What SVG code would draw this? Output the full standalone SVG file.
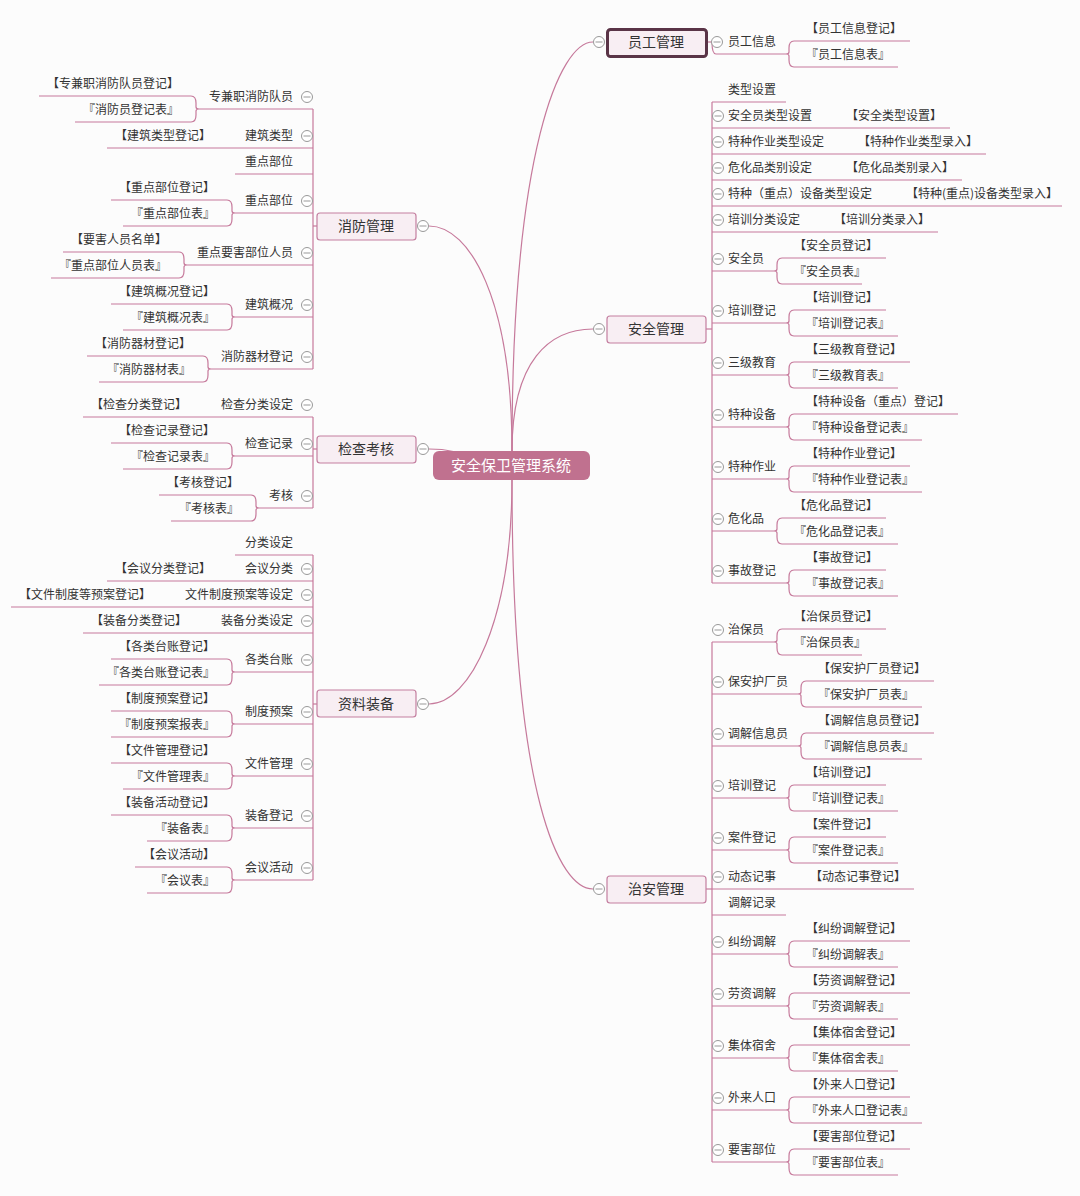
<svg xmlns="http://www.w3.org/2000/svg" width="1080" height="1196" viewBox="0 0 1080 1196">
<style>
.t{font-family:"Noto Sans CJK SC","Liberation Sans",sans-serif;font-size:12px;fill:#333}
.e{text-anchor:end}
.l{stroke:#c6799b;stroke-width:1.2;fill:none}
.c{fill:#fff;stroke:#999;stroke-width:1}
.m{stroke:#999;stroke-width:1}
.box{fill:#f8eef3;stroke:#c47fa0;stroke-width:1.2}
.bt{font-family:"Noto Sans CJK SC","Liberation Sans",sans-serif;font-size:14px;fill:#333;text-anchor:middle}
</style>
<defs>
<g id="cir"><circle class="c" r="5.5"/><line class="m" x1="-3.5" x2="3.5" y1="0" y2="0"/></g>
</defs>
<rect width="1080" height="1196" fill="#fcfcfc"/>
<g id="connectors">
<path class="l" d="M512,451 C512,150 560,42 593,42"/>
<path class="l" d="M512,451 C512,360 550,329 593,329"/>
<path class="l" d="M512,480 C512,800 560,889 593,889"/>
<path class="l" d="M512,451 C512,300 470,226 429,226"/>
<path class="l" d="M429,449 C470,449 470,465 512,465"/>
<path class="l" d="M512,480 C512,620 470,704 429,704"/>
<!-- trunks -->
<line class="l" x1="706" y1="42" x2="712" y2="42"/>
<path class="l" d="M712,42 Q712,54 716,54 L786,54"/>
<line class="l" x1="712" y1="102" x2="712" y2="583"/>
<line class="l" x1="706" y1="329" x2="712" y2="329"/>
<line class="l" x1="712" y1="642" x2="712" y2="1162"/>
<line class="l" x1="706" y1="889" x2="712" y2="889"/>
<line class="l" x1="313" y1="109" x2="313" y2="369"/>
<line class="l" x1="313" y1="226" x2="317" y2="226"/>
<line class="l" x1="313" y1="417" x2="313" y2="508"/>
<line class="l" x1="313" y1="449" x2="317" y2="449"/>
<line class="l" x1="313" y1="555" x2="313" y2="880"/>
<line class="l" x1="313" y1="704" x2="317" y2="704"/>
</g>
<g id="root"><rect x="433" y="451" width="157" height="29" rx="6" fill="#c0718f"/><text x="511" y="471" font-family="Noto Sans CJK SC,Liberation Sans,sans-serif" font-size="15" fill="#fff" text-anchor="middle">安全保卫管理系统</text></g>
<g id="yggl"><rect x="607.5" y="29.5" width="99" height="27" rx="3" fill="#f8eef3" stroke="#5a3447" stroke-width="3"/><text class="bt" x="656" y="47">员工管理</text><use href="#cir" x="599" y="42"/><use href="#cir" x="717" y="42"/></g>
<g id="aqgl"><rect class="box" x="607" y="316" width="99" height="27" rx="3"/><text class="bt" x="656" y="334">安全管理</text><use href="#cir" x="599" y="329"/></g>
<g id="zagl"><rect class="box" x="607" y="876" width="99" height="27" rx="3"/><text class="bt" x="656" y="894">治安管理</text><use href="#cir" x="599" y="889"/></g>
<g id="xfgl"><rect class="box" x="317" y="213" width="99" height="27" rx="3"/><text class="bt" x="366" y="231">消防管理</text><use href="#cir" x="423" y="226"/></g>
<g id="jckh"><rect class="box" x="317" y="436" width="99" height="27" rx="3"/><text class="bt" x="366" y="454">检查考核</text><use href="#cir" x="423" y="449"/></g>
<g id="zlzb"><rect class="box" x="317" y="690" width="99" height="27" rx="3"/><text class="bt" x="366" y="709">资料装备</text><use href="#cir" x="423" y="704"/></g>

<!-- right side doubles: params -->
<g id="ygxx"><text class="t" x="728" y="46">员工信息</text>
<path class="l" d="M794,41 Q789,41 789,48 L789,52 Q789,54 786,54 Q789,54 789,56 L789,60 Q789,67 794,67"/>
<line class="l" x1="794" y1="41" x2="910" y2="41"/><line class="l" x1="794" y1="67" x2="898" y2="67"/>
<text class="t" x="806" y="33">【员工信息登记】</text><text class="t" x="806" y="59">『员工信息表』</text></g>

<g id="lxsz"><text class="t" x="728" y="94">类型设置</text><line class="l" x1="712" y1="102" x2="786" y2="102"/></g>
<g id="s1"><use href="#cir" x="718" y="116"/><text class="t" x="728" y="120">安全员类型设置</text><text class="t" x="846" y="120">【安全类型设置】</text><line class="l" x1="712" y1="128" x2="950" y2="128"/></g>
<g id="s2"><use href="#cir" x="718" y="142"/><text class="t" x="728" y="146">特种作业类型设定</text><text class="t" x="858" y="146">【特种作业类型录入】</text><line class="l" x1="712" y1="154" x2="986" y2="154"/></g>
<g id="s3"><use href="#cir" x="718" y="168"/><text class="t" x="728" y="172">危化品类别设定</text><text class="t" x="846" y="172">【危化品类别录入】</text><line class="l" x1="712" y1="180" x2="962" y2="180"/></g>
<g id="s4"><use href="#cir" x="718" y="194"/><text class="t" x="728" y="198">特种（重点）设备类型设定</text><text class="t" x="906" y="198">【特种(重点)设备类型录入】</text><line class="l" x1="712" y1="206" x2="1062" y2="206"/></g>
<g id="s5"><use href="#cir" x="718" y="220"/><text class="t" x="728" y="224">培训分类设定</text><text class="t" x="834" y="224">【培训分类录入】</text><line class="l" x1="712" y1="232" x2="938" y2="232"/></g>

<g id="aqy"><use href="#cir" x="718" y="259"/><text class="t" x="728" y="263">安全员</text><line class="l" x1="712" y1="271" x2="774" y2="271"/>
<path class="l" d="M782,258 Q777,258 777,265 L777,269 Q777,271 774,271 Q777,271 777,273 L777,277 Q777,284 782,284"/>
<line class="l" x1="782" y1="258" x2="886" y2="258"/><line class="l" x1="782" y1="284" x2="862" y2="284"/>
<text class="t" x="794" y="250">【安全员登记】</text><text class="t" x="794" y="276">『安全员表』</text></g>

<g id="pxdj"><use href="#cir" x="718" y="311"/><text class="t" x="728" y="315">培训登记</text><line class="l" x1="712" y1="323" x2="786" y2="323"/>
<path class="l" d="M794,310 Q789,310 789,317 L789,321 Q789,323 786,323 Q789,323 789,325 L789,329 Q789,336 794,336"/>
<line class="l" x1="794" y1="310" x2="886" y2="310"/><line class="l" x1="794" y1="336" x2="898" y2="336"/>
<text class="t" x="806" y="302">【培训登记】</text><text class="t" x="806" y="328">『培训登记表』</text></g>

<g id="sjjy"><use href="#cir" x="718" y="363"/><text class="t" x="728" y="367">三级教育</text><line class="l" x1="712" y1="375" x2="786" y2="375"/>
<path class="l" d="M794,362 Q789,362 789,369 L789,373 Q789,375 786,375 Q789,375 789,377 L789,381 Q789,388 794,388"/>
<line class="l" x1="794" y1="362" x2="910" y2="362"/><line class="l" x1="794" y1="388" x2="898" y2="388"/>
<text class="t" x="806" y="354">【三级教育登记】</text><text class="t" x="806" y="380">『三级教育表』</text></g>

<g id="tzsb"><use href="#cir" x="718" y="415"/><text class="t" x="728" y="419">特种设备</text><line class="l" x1="712" y1="427" x2="786" y2="427"/>
<path class="l" d="M794,414 Q789,414 789,421 L789,425 Q789,427 786,427 Q789,427 789,429 L789,433 Q789,440 794,440"/>
<line class="l" x1="794" y1="414" x2="958" y2="414"/><line class="l" x1="794" y1="440" x2="922" y2="440"/>
<text class="t" x="806" y="406">【特种设备（重点）登记】</text><text class="t" x="806" y="432">『特种设备登记表』</text></g>

<g id="tzzy"><use href="#cir" x="718" y="467"/><text class="t" x="728" y="471">特种作业</text><line class="l" x1="712" y1="479" x2="786" y2="479"/>
<path class="l" d="M794,466 Q789,466 789,473 L789,477 Q789,479 786,479 Q789,479 789,481 L789,485 Q789,492 794,492"/>
<line class="l" x1="794" y1="466" x2="910" y2="466"/><line class="l" x1="794" y1="492" x2="922" y2="492"/>
<text class="t" x="806" y="458">【特种作业登记】</text><text class="t" x="806" y="484">『特种作业登记表』</text></g>

<g id="whp"><use href="#cir" x="718" y="519"/><text class="t" x="728" y="523">危化品</text><line class="l" x1="712" y1="531" x2="774" y2="531"/>
<path class="l" d="M782,518 Q777,518 777,525 L777,529 Q777,531 774,531 Q777,531 777,533 L777,537 Q777,544 782,544"/>
<line class="l" x1="782" y1="518" x2="886" y2="518"/><line class="l" x1="782" y1="544" x2="898" y2="544"/>
<text class="t" x="794" y="510">【危化品登记】</text><text class="t" x="794" y="536">『危化品登记表』</text></g>

<g id="sgdj"><use href="#cir" x="718" y="571"/><text class="t" x="728" y="575">事故登记</text><line class="l" x1="712" y1="583" x2="786" y2="583"/>
<path class="l" d="M794,570 Q789,570 789,577 L789,581 Q789,583 786,583 Q789,583 789,585 L789,589 Q789,596 794,596"/>
<line class="l" x1="794" y1="570" x2="886" y2="570"/><line class="l" x1="794" y1="596" x2="898" y2="596"/>
<text class="t" x="806" y="562">【事故登记】</text><text class="t" x="806" y="588">『事故登记表』</text></g>

<!-- 治安 -->
<g id="zby"><use href="#cir" x="718" y="630"/><text class="t" x="728" y="634">治保员</text><line class="l" x1="712" y1="642" x2="774" y2="642"/>
<path class="l" d="M782,629 Q777,629 777,636 L777,640 Q777,642 774,642 Q777,642 777,644 L777,648 Q777,655 782,655"/>
<line class="l" x1="782" y1="629" x2="886" y2="629"/><line class="l" x1="782" y1="655" x2="862" y2="655"/>
<text class="t" x="794" y="621">【治保员登记】</text><text class="t" x="794" y="647">『治保员表』</text></g>

<g id="bahcy"><use href="#cir" x="718" y="682"/><text class="t" x="728" y="686">保安护厂员</text><line class="l" x1="712" y1="694" x2="798" y2="694"/>
<path class="l" d="M806,681 Q801,681 801,688 L801,692 Q801,694 798,694 Q801,694 801,696 L801,700 Q801,707 806,707"/>
<line class="l" x1="806" y1="681" x2="934" y2="681"/><line class="l" x1="806" y1="707" x2="922" y2="707"/>
<text class="t" x="818" y="673">【保安护厂员登记】</text><text class="t" x="818" y="699">『保安护厂员表』</text></g>

<g id="tjxxy"><use href="#cir" x="718" y="734"/><text class="t" x="728" y="738">调解信息员</text><line class="l" x1="712" y1="746" x2="798" y2="746"/>
<path class="l" d="M806,733 Q801,733 801,740 L801,744 Q801,746 798,746 Q801,746 801,748 L801,752 Q801,759 806,759"/>
<line class="l" x1="806" y1="733" x2="934" y2="733"/><line class="l" x1="806" y1="759" x2="922" y2="759"/>
<text class="t" x="818" y="725">【调解信息员登记】</text><text class="t" x="818" y="751">『调解信息员表』</text></g>

<g id="pxdj2"><use href="#cir" x="718" y="786"/><text class="t" x="728" y="790">培训登记</text><line class="l" x1="712" y1="798" x2="786" y2="798"/>
<path class="l" d="M794,785 Q789,785 789,792 L789,796 Q789,798 786,798 Q789,798 789,800 L789,804 Q789,811 794,811"/>
<line class="l" x1="794" y1="785" x2="886" y2="785"/><line class="l" x1="794" y1="811" x2="898" y2="811"/>
<text class="t" x="806" y="777">【培训登记】</text><text class="t" x="806" y="803">『培训登记表』</text></g>

<g id="ajdj"><use href="#cir" x="718" y="838"/><text class="t" x="728" y="842">案件登记</text><line class="l" x1="712" y1="850" x2="786" y2="850"/>
<path class="l" d="M794,837 Q789,837 789,844 L789,848 Q789,850 786,850 Q789,850 789,852 L789,856 Q789,863 794,863"/>
<line class="l" x1="794" y1="837" x2="886" y2="837"/><line class="l" x1="794" y1="863" x2="898" y2="863"/>
<text class="t" x="806" y="829">【案件登记】</text><text class="t" x="806" y="855">『案件登记表』</text></g>

<g id="dtjs"><use href="#cir" x="718" y="877"/><text class="t" x="728" y="881">动态记事</text><text class="t" x="810" y="881">【动态记事登记】</text><line class="l" x1="712" y1="889" x2="914" y2="889"/></g>
<g id="tjjl"><text class="t" x="728" y="907">调解记录</text><line class="l" x1="712" y1="915" x2="786" y2="915"/></g>

<g id="jftj"><use href="#cir" x="718" y="942"/><text class="t" x="728" y="946">纠纷调解</text><line class="l" x1="712" y1="954" x2="786" y2="954"/>
<path class="l" d="M794,941 Q789,941 789,948 L789,952 Q789,954 786,954 Q789,954 789,956 L789,960 Q789,967 794,967"/>
<line class="l" x1="794" y1="941" x2="910" y2="941"/><line class="l" x1="794" y1="967" x2="898" y2="967"/>
<text class="t" x="806" y="933">【纠纷调解登记】</text><text class="t" x="806" y="959">『纠纷调解表』</text></g>

<g id="lztj"><use href="#cir" x="718" y="994"/><text class="t" x="728" y="998">劳资调解</text><line class="l" x1="712" y1="1006" x2="786" y2="1006"/>
<path class="l" d="M794,993 Q789,993 789,1000 L789,1004 Q789,1006 786,1006 Q789,1006 789,1008 L789,1012 Q789,1019 794,1019"/>
<line class="l" x1="794" y1="993" x2="910" y2="993"/><line class="l" x1="794" y1="1019" x2="898" y2="1019"/>
<text class="t" x="806" y="985">【劳资调解登记】</text><text class="t" x="806" y="1011">『劳资调解表』</text></g>

<g id="jtss"><use href="#cir" x="718" y="1046"/><text class="t" x="728" y="1050">集体宿舍</text><line class="l" x1="712" y1="1058" x2="786" y2="1058"/>
<path class="l" d="M794,1045 Q789,1045 789,1052 L789,1056 Q789,1058 786,1058 Q789,1058 789,1060 L789,1064 Q789,1071 794,1071"/>
<line class="l" x1="794" y1="1045" x2="910" y2="1045"/><line class="l" x1="794" y1="1071" x2="898" y2="1071"/>
<text class="t" x="806" y="1037">【集体宿舍登记】</text><text class="t" x="806" y="1063">『集体宿舍表』</text></g>

<g id="wlrk"><use href="#cir" x="718" y="1098"/><text class="t" x="728" y="1102">外来人口</text><line class="l" x1="712" y1="1110" x2="786" y2="1110"/>
<path class="l" d="M794,1097 Q789,1097 789,1104 L789,1108 Q789,1110 786,1110 Q789,1110 789,1112 L789,1116 Q789,1123 794,1123"/>
<line class="l" x1="794" y1="1097" x2="910" y2="1097"/><line class="l" x1="794" y1="1123" x2="922" y2="1123"/>
<text class="t" x="806" y="1089">【外来人口登记】</text><text class="t" x="806" y="1115">『外来人口登记表』</text></g>

<g id="yhbw"><use href="#cir" x="718" y="1150"/><text class="t" x="728" y="1154">要害部位</text><line class="l" x1="712" y1="1162" x2="786" y2="1162"/>
<path class="l" d="M794,1149 Q789,1149 789,1156 L789,1160 Q789,1162 786,1162 Q789,1162 789,1164 L789,1168 Q789,1175 794,1175"/>
<line class="l" x1="794" y1="1149" x2="910" y2="1149"/><line class="l" x1="794" y1="1175" x2="898" y2="1175"/>
<text class="t" x="806" y="1141">【要害部位登记】</text><text class="t" x="806" y="1167">『要害部位表』</text></g>

<!-- LEFT: 消防管理 -->
<g id="zjz"><use href="#cir" x="307" y="97"/><text class="t e" x="293" y="101">专兼职消防队员</text><line class="l" x1="199" y1="109" x2="313" y2="109"/>
<path class="l" d="M191,96 Q196,96 196,103 L196,107 Q196,109 199,109 Q196,109 196,111 L196,115 Q196,122 191,122"/>
<line class="l" x1="39" y1="96" x2="191" y2="96"/><line class="l" x1="75" y1="122" x2="191" y2="122"/>
<text class="t e" x="179" y="88">【专兼职消防队员登记】</text><text class="t e" x="179" y="114">『消防员登记表』</text></g>
<g id="jzlx"><use href="#cir" x="307" y="136"/><text class="t e" x="293" y="140">建筑类型</text><text class="t e" x="211" y="140">【建筑类型登记】</text><line class="l" x1="107" y1="148" x2="313" y2="148"/></g>
<g id="zdbw1"><text class="t e" x="293" y="166">重点部位</text><line class="l" x1="235" y1="174" x2="313" y2="174"/></g>
<g id="zdbw2"><use href="#cir" x="307" y="201"/><text class="t e" x="293" y="205">重点部位</text><line class="l" x1="235" y1="213" x2="313" y2="213"/>
<path class="l" d="M227,200 Q232,200 232,207 L232,211 Q232,213 235,213 Q232,213 232,215 L232,219 Q232,226 227,226"/>
<line class="l" x1="111" y1="200" x2="227" y2="200"/><line class="l" x1="123" y1="226" x2="227" y2="226"/>
<text class="t e" x="215" y="192">【重点部位登记】</text><text class="t e" x="215" y="218">『重点部位表』</text></g>
<g id="zdyh"><use href="#cir" x="307" y="253"/><text class="t e" x="293" y="257">重点要害部位人员</text><line class="l" x1="187" y1="265" x2="313" y2="265"/>
<path class="l" d="M179,252 Q184,252 184,259 L184,263 Q184,265 187,265 Q184,265 184,267 L184,271 Q184,278 179,278"/>
<line class="l" x1="63" y1="252" x2="179" y2="252"/><line class="l" x1="51" y1="278" x2="179" y2="278"/>
<text class="t e" x="167" y="244">【要害人员名单】</text><text class="t e" x="167" y="270">『重点部位人员表』</text></g>
<g id="jzgk"><use href="#cir" x="307" y="305"/><text class="t e" x="293" y="309">建筑概况</text><line class="l" x1="235" y1="317" x2="313" y2="317"/>
<path class="l" d="M227,304 Q232,304 232,311 L232,315 Q232,317 235,317 Q232,317 232,319 L232,323 Q232,330 227,330"/>
<line class="l" x1="111" y1="304" x2="227" y2="304"/><line class="l" x1="123" y1="330" x2="227" y2="330"/>
<text class="t e" x="215" y="296">【建筑概况登记】</text><text class="t e" x="215" y="322">『建筑概况表』</text></g>
<g id="xfqc"><use href="#cir" x="307" y="357"/><text class="t e" x="293" y="361">消防器材登记</text><line class="l" x1="211" y1="369" x2="313" y2="369"/>
<path class="l" d="M203,356 Q208,356 208,363 L208,367 Q208,369 211,369 Q208,369 208,371 L208,375 Q208,382 203,382"/>
<line class="l" x1="87" y1="356" x2="203" y2="356"/><line class="l" x1="99" y1="382" x2="203" y2="382"/>
<text class="t e" x="191" y="348">【消防器材登记】</text><text class="t e" x="191" y="374">『消防器材表』</text></g>

<!-- 检查考核 -->
<g id="jcfl"><use href="#cir" x="307" y="405"/><text class="t e" x="293" y="409">检查分类设定</text><text class="t e" x="187" y="409">【检查分类登记】</text><line class="l" x1="83" y1="417" x2="313" y2="417"/></g>
<g id="jcjl"><use href="#cir" x="307" y="444"/><text class="t e" x="293" y="448">检查记录</text><line class="l" x1="235" y1="456" x2="313" y2="456"/>
<path class="l" d="M227,443 Q232,443 232,450 L232,454 Q232,456 235,456 Q232,456 232,458 L232,462 Q232,469 227,469"/>
<line class="l" x1="111" y1="443" x2="227" y2="443"/><line class="l" x1="123" y1="469" x2="227" y2="469"/>
<text class="t e" x="215" y="435">【检查记录登记】</text><text class="t e" x="215" y="461">『检查记录表』</text></g>
<g id="kh"><use href="#cir" x="307" y="496"/><text class="t e" x="293" y="500">考核</text><line class="l" x1="259" y1="508" x2="313" y2="508"/>
<path class="l" d="M251,495 Q256,495 256,502 L256,506 Q256,508 259,508 Q256,508 256,510 L256,514 Q256,521 251,521"/>
<line class="l" x1="159" y1="495" x2="251" y2="495"/><line class="l" x1="171" y1="521" x2="251" y2="521"/>
<text class="t e" x="239" y="487">【考核登记】</text><text class="t e" x="239" y="513">『考核表』</text></g>

<!-- 资料装备 -->
<g id="flsd"><text class="t e" x="293" y="547">分类设定</text><line class="l" x1="235" y1="555" x2="313" y2="555"/></g>
<g id="hyfl"><use href="#cir" x="307" y="569"/><text class="t e" x="293" y="573">会议分类</text><text class="t e" x="211" y="573">【会议分类登记】</text><line class="l" x1="107" y1="581" x2="313" y2="581"/></g>
<g id="wjzd"><use href="#cir" x="307" y="595"/><text class="t e" x="293" y="599">文件制度预案等设定</text><text class="t e" x="151" y="599">【文件制度等预案登记】</text><line class="l" x1="11" y1="607" x2="313" y2="607"/></g>
<g id="zbfl"><use href="#cir" x="307" y="621"/><text class="t e" x="293" y="625">装备分类设定</text><text class="t e" x="187" y="625">【装备分类登记】</text><line class="l" x1="83" y1="633" x2="313" y2="633"/></g>
<g id="gltz"><use href="#cir" x="307" y="660"/><text class="t e" x="293" y="664">各类台账</text><line class="l" x1="235" y1="672" x2="313" y2="672"/>
<path class="l" d="M227,659 Q232,659 232,666 L232,670 Q232,672 235,672 Q232,672 232,674 L232,678 Q232,685 227,685"/>
<line class="l" x1="111" y1="659" x2="227" y2="659"/><line class="l" x1="99" y1="685" x2="227" y2="685"/>
<text class="t e" x="215" y="651">【各类台账登记】</text><text class="t e" x="215" y="677">『各类台账登记表』</text></g>
<g id="zdya"><use href="#cir" x="307" y="712"/><text class="t e" x="293" y="716">制度预案</text><line class="l" x1="235" y1="724" x2="313" y2="724"/>
<path class="l" d="M227,711 Q232,711 232,718 L232,722 Q232,724 235,724 Q232,724 232,726 L232,730 Q232,737 227,737"/>
<line class="l" x1="111" y1="711" x2="227" y2="711"/><line class="l" x1="111" y1="737" x2="227" y2="737"/>
<text class="t e" x="215" y="703">【制度预案登记】</text><text class="t e" x="215" y="729">『制度预案报表』</text></g>
<g id="wjgl"><use href="#cir" x="307" y="764"/><text class="t e" x="293" y="768">文件管理</text><line class="l" x1="235" y1="776" x2="313" y2="776"/>
<path class="l" d="M227,763 Q232,763 232,770 L232,774 Q232,776 235,776 Q232,776 232,778 L232,782 Q232,789 227,789"/>
<line class="l" x1="111" y1="763" x2="227" y2="763"/><line class="l" x1="123" y1="789" x2="227" y2="789"/>
<text class="t e" x="215" y="755">【文件管理登记】</text><text class="t e" x="215" y="781">『文件管理表』</text></g>
<g id="zbdj"><use href="#cir" x="307" y="816"/><text class="t e" x="293" y="820">装备登记</text><line class="l" x1="235" y1="828" x2="313" y2="828"/>
<path class="l" d="M227,815 Q232,815 232,822 L232,826 Q232,828 235,828 Q232,828 232,830 L232,834 Q232,841 227,841"/>
<line class="l" x1="111" y1="815" x2="227" y2="815"/><line class="l" x1="147" y1="841" x2="227" y2="841"/>
<text class="t e" x="215" y="807">【装备活动登记】</text><text class="t e" x="215" y="833">『装备表』</text></g>
<g id="hyhd"><use href="#cir" x="307" y="868"/><text class="t e" x="293" y="872">会议活动</text><line class="l" x1="235" y1="880" x2="313" y2="880"/>
<path class="l" d="M227,867 Q232,867 232,874 L232,878 Q232,880 235,880 Q232,880 232,882 L232,886 Q232,893 227,893"/>
<line class="l" x1="135" y1="867" x2="227" y2="867"/><line class="l" x1="147" y1="893" x2="227" y2="893"/>
<text class="t e" x="215" y="859">【会议活动】</text><text class="t e" x="215" y="885">『会议表』</text></g>
</svg>
